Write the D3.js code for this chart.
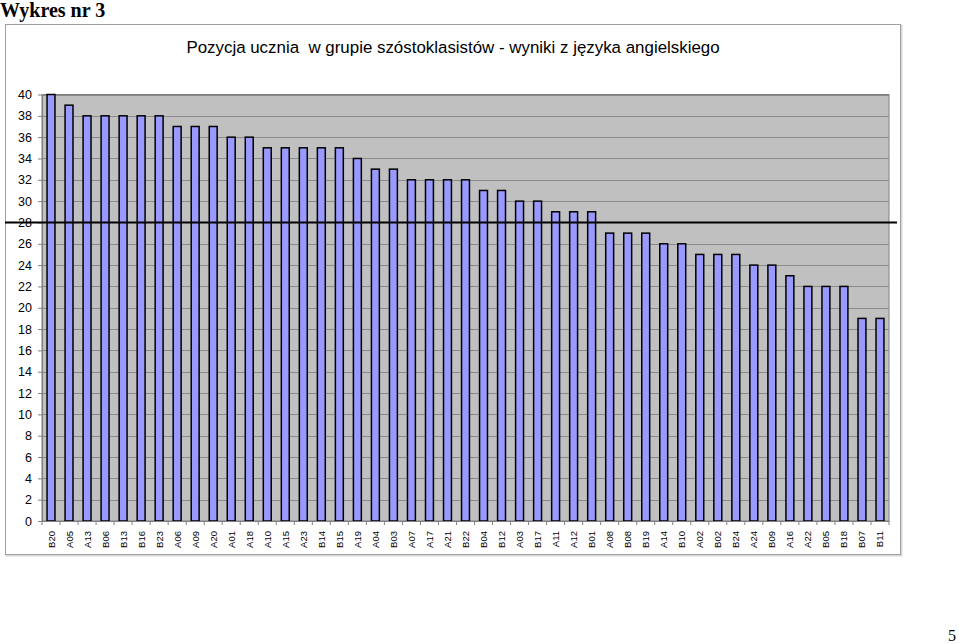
<!DOCTYPE html>
<html><head><meta charset="utf-8">
<script src="https://cdn.jsdelivr.net/npm/d3@7"></script>
<style>body{margin:0;background:#fff;}svg{display:block;}</style>
</head><body>
<script>
const categories = ["B20","A05","A13","B06","B13","B16","B23","A06","A09","A20","A01","A18","A10","A15","A23","B14","B15","A19","A04","B03","A07","A17","A21","B22","B04","B12","A03","B17","A11","A12","B01","A08","B08","B19","A14","B10","A02","B02","B24","A24","B09","A16","A22","B05","B18","B07","B11"];
const values = [40,39,38,38,38,38,38,37,37,37,36,36,35,35,35,35,35,34,33,33,32,32,32,32,31,31,30,30,29,29,29,27,27,27,26,26,25,25,25,24,24,23,22,22,22,19,19];
const yTicks = [0,2,4,6,8,10,12,14,16,18,20,22,24,26,28,30,32,34,36,38,40];
const threshold = 28;
const title = "Pozycja ucznia  w grupie szóstoklasistów - wyniki z języka angielskiego";

const W = 959, H = 644;
const svg = d3.select("body").append("svg").attr("width", W).attr("height", H);

svg.append("text").attr("x", 0).attr("y", 17).attr("font-family", "Liberation Serif, Times New Roman, serif")
  .attr("font-weight", "bold").attr("font-size", 20).text("Wykres nr 3");
svg.append("text").attr("x", 956).attr("y", 641).attr("text-anchor", "end")
  .attr("font-family", "Liberation Serif, Times New Roman, serif").attr("font-size", 16).text("5");

// chart frame
svg.append("rect").attr("x", 6.5).attr("y", 25.5).attr("width", 895).attr("height", 530)
  .attr("fill", "none").attr("stroke", "#d8d8d8").attr("stroke-width", 2);
svg.append("rect").attr("x", 5.5).attr("y", 24.5).attr("width", 895).attr("height", 530)
  .attr("fill", "#fff").attr("stroke", "#a0a0a0").attr("stroke-width", 1);

svg.append("text").attr("x", 453).attr("y", 53).attr("text-anchor", "middle")
  .attr("font-family", "Liberation Sans, Arial, sans-serif").attr("font-size", 16.9).style("white-space","pre").text(title);

const L = 42, R = 889, T = 94.5, B = 521;
const x = d3.scaleBand().domain(categories).range([L, R]).paddingInner(0.56).paddingOuter(0.28);
const y = d3.scaleLinear().domain([0, 40]).range([B, T]);

svg.append("rect").attr("x", L).attr("y", T).attr("width", R - L).attr("height", B - T)
  .attr("fill", "#c0c0c0").attr("stroke", "#808080").attr("stroke-width", 1);

svg.append("g").selectAll("line").data(yTicks.filter(d => d > 0)).join("line")
  .attr("x1", L).attr("x2", R).attr("y1", d => Math.round(y(d)) + 0.5).attr("y2", d => Math.round(y(d)) + 0.5)
  .attr("stroke", "#8a8a8a").attr("stroke-width", 1);

svg.append("g").selectAll("rect").data(values).join("rect")
  .attr("x", (d, i) => x(categories[i]))
  .attr("y", d => y(d))
  .attr("width", x.bandwidth())
  .attr("height", d => B - y(d))
  .attr("fill", "#9999ff").attr("stroke", "#000").attr("stroke-width", 1.5);

// y axis
const yAxis = d3.axisLeft(y).tickValues(yTicks).tickSize(4).tickSizeOuter(0).tickPadding(6);
const gy = svg.append("g").attr("transform", `translate(${L},0)`).call(yAxis);
gy.select(".domain").attr("stroke", "#808080");
gy.selectAll(".tick line").attr("stroke", "#808080");
gy.selectAll("text").attr("font-family", "Liberation Sans, Arial, sans-serif").attr("font-size", 12.5).attr("fill", "#000");

// x axis
const gx = svg.append("g").attr("transform", `translate(0,${B})`);
gx.append("line").attr("x1", L).attr("x2", R).attr("y1", 0.5).attr("y2", 0.5).attr("stroke", "#808080");
const boundaries = d3.range(categories.length + 1).map(i => L + (R - L) * i / categories.length);
gx.selectAll("line.tk").data(boundaries).join("line").attr("class", "tk")
  .attr("x1", d => d).attr("x2", d => d).attr("y1", 0).attr("y2", 4).attr("stroke", "#808080");
gx.selectAll("text").data(categories).join("text")
  .attr("transform", d => `translate(${x(d) + x.bandwidth() / 2 + 3.5},10) rotate(-90)`)
  .attr("text-anchor", "end")
  .attr("font-family", "Liberation Sans, Arial, sans-serif").attr("font-size", 9.5).text(d => d);

// threshold line
svg.append("line").attr("x1", 5).attr("x2", 897).attr("y1", y(threshold)).attr("y2", y(threshold))
  .attr("stroke", "#000").attr("stroke-width", 2);
</script>
</body></html>
